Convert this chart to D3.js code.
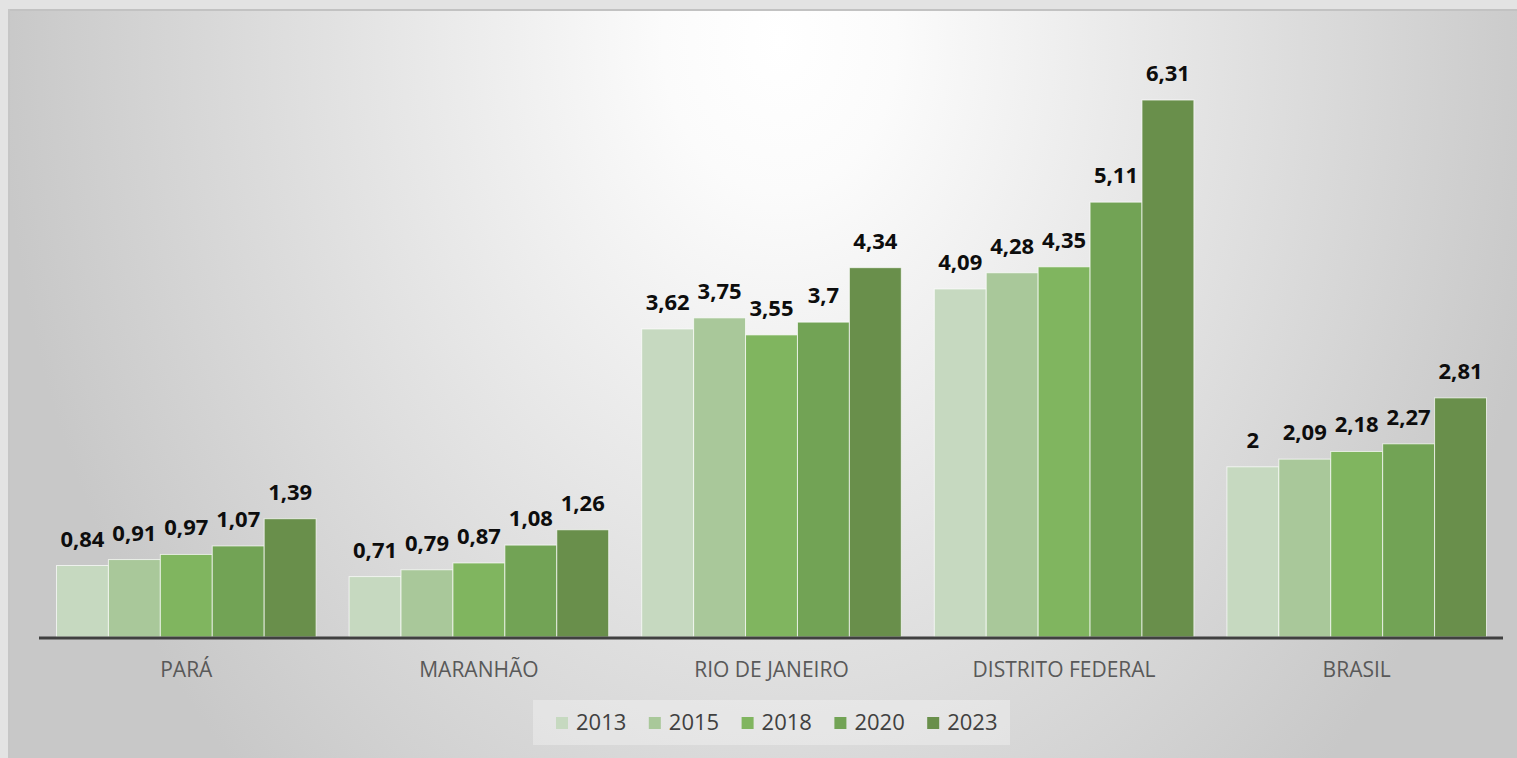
<!DOCTYPE html>
<html>
<head>
<meta charset="utf-8">
<script src="https://cdn.jsdelivr.net/npm/d3@7"></script>
<style>
  html, body { margin: 0; padding: 0; background: #e3e3e3; }
  svg { display: block; }
</style>
</head>
<body>
<svg id="chart"></svg>
<script>
const categories = ["PARÁ", "MARANHÃO", "RIO DE JANEIRO", "DISTRITO FEDERAL", "BRASIL"];
const years = ["2013", "2015", "2018", "2020", "2023"];
const v2013 = [0.84, 0.71, 3.62, 4.09, 2];
const v2015 = [0.91, 0.79, 3.75, 4.28, 2.09];
const v2018 = [0.97, 0.87, 3.55, 4.35, 2.18];
const v2020 = [1.07, 1.08, 3.7, 5.11, 2.27];
const v2023 = [1.39, 1.26, 4.34, 6.31, 2.81];
const seriesValues = [v2013, v2015, v2018, v2020, v2023];

const WIDTH = 1517;
const HEIGHT = 758;
const BASE_Y = 637;

const svg = d3.select("#chart")
    .attr("width", WIDTH)
    .attr("height", HEIGHT);

// background panel, light spot near top centre
const defs = svg.append("defs");
const grad = defs.append("radialGradient")
    .attr("id", "bg")
    .attr("gradientUnits", "userSpaceOnUse")
    .attr("cx", 780).attr("cy", 40).attr("r", 780)
    .attr("gradientTransform", "translate(780,40) scale(1,1.3) translate(-780,-40)");
grad.append("stop").attr("offset", "0").attr("stop-color", "#ffffff");
grad.append("stop").attr("offset", "0.15").attr("stop-color", "#fbfbfb");
grad.append("stop").attr("offset", "1").attr("stop-color", "#c8c8c8");

svg.append("rect")
    .attr("width", WIDTH).attr("height", HEIGHT)
    .attr("fill", "#e3e3e3");

svg.append("rect")
    .attr("x", 8).attr("y", 9)
    .attr("width", WIDTH - 8).attr("height", HEIGHT - 9)
    .attr("fill", "url(#bg)");

svg.append("rect")
    .attr("x", 8).attr("y", 9)
    .attr("width", WIDTH - 8).attr("height", 2)
    .attr("fill", "#c2c2c2");
svg.append("rect")
    .attr("x", 8).attr("y", 9)
    .attr("width", 2).attr("height", HEIGHT - 9)
    .attr("fill", "#c6c6c6");

// scales
const x0 = d3.scaleBand()
    .domain(categories)
    .range([40, 1503])
    .padding(0);

const x1 = d3.scaleBand()
    .domain(years)
    .range([16.5, x0.bandwidth() - 16.5])
    .padding(0);

const y = d3.scaleLinear()
    .domain([0, 7])
    .range([BASE_Y, BASE_Y - 7 * 85.1]);

const color = d3.scaleOrdinal()
    .domain(years)
    .range(["#c6d9c0", "#a9c89a", "#80b55f", "#72a355", "#698f4b"]);

const fmt = v => String(v).replace(".", ",");

// data table
const rows = categories.map((c, i) => ({
    category: c,
    values: years.map((yr, j) => ({ year: yr, value: seriesValues[j][i] }))
}));

const groups = svg.append("g")
    .selectAll("g")
    .data(rows)
    .join("g")
    .attr("transform", d => `translate(${x0(d.category)},0)`);

groups.selectAll("rect")
    .data(d => d.values)
    .join("rect")
    .attr("x", d => x1(d.year))
    .attr("y", d => y(d.value))
    .attr("width", x1.bandwidth())
    .attr("height", d => y(0) - y(d.value))
    .attr("fill", d => color(d.year))
    .attr("stroke", "rgba(255,255,255,0.7)")
    .attr("stroke-width", 1);

groups.selectAll("text")
    .data(d => d.values)
    .join("text")
    .attr("x", d => x1(d.year) + x1.bandwidth() / 2)
    .attr("y", d => y(d.value) - 19)
    .attr("text-anchor", "middle")
    .style("font-family", "'Open Sans', sans-serif")
    .style("font-weight", "bold")
    .style("font-size", "22px")
    .style("fill", "#0d0d0d")
    .text(d => fmt(d.value));

// axis baseline
svg.append("line")
    .attr("x1", 39).attr("x2", 1503)
    .attr("y1", BASE_Y + 1).attr("y2", BASE_Y + 1)
    .attr("stroke", "#404040")
    .attr("stroke-width", 3);

// category labels
svg.append("g")
    .selectAll("text")
    .data(categories)
    .join("text")
    .attr("x", d => x0(d) + x0.bandwidth() / 2)
    .attr("y", 677)
    .attr("text-anchor", "middle")
    .style("font-family", "'Open Sans', sans-serif")
    .style("font-size", "21px")
    .style("fill", "#595959")
    .text(d => d);

// legend
const legend = svg.append("g");
legend.append("rect")
    .attr("x", 533).attr("y", 700)
    .attr("width", 477).attr("height", 45)
    .attr("fill", "rgba(255,255,255,0.3)");

const items = legend.selectAll("g.item")
    .data(years)
    .join("g")
    .attr("class", "item")
    .attr("transform", (d, i) => `translate(${556 + i * 92.8},0)`);

items.append("rect")
    .attr("x", 0).attr("y", 717)
    .attr("width", 12).attr("height", 12)
    .attr("fill", d => color(d));

items.append("text")
    .attr("x", 20).attr("y", 730)
    .style("font-family", "'Open Sans', sans-serif")
    .style("font-size", "22px")
    .style("fill", "#404040")
    .text(d => d);
</script>
</body>
</html>
